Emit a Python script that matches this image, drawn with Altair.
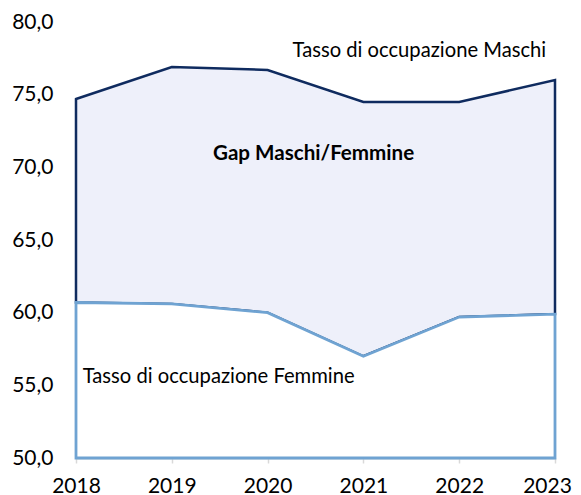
import altair as alt
import pandas as pd

years = [2018, 2019, 2020, 2021, 2022, 2023]
maschi = [74.7, 76.9, 76.7, 74.5, 74.5, 76.0]
femmine = [60.7, 60.6, 60.0, 57.0, 59.7, 59.9]
base_value = 50.0

ann_text = ["Tasso di occupazione Maschi", "Tasso di occupazione Femmine"]
ann_x = [2020.26, 2018.07]
ann_y = [78.0, 55.6]
gap_text = ["Gap Maschi/Femmine"]
gap_x = [2019.43]
gap_y = [70.9]

df = pd.DataFrame({"anno": years, "maschi": maschi, "femmine": femmine,
                   "base": [base_value] * len(years)})
ann = pd.DataFrame({"t": ann_text, "x": ann_x, "y": ann_y})
gapann = pd.DataFrame({"t": gap_text, "x": gap_x, "y": gap_y})

FONT = "Lato"
NAVY = "#0f2b5f"
LIGHT = "#6fa3d2"

xs = alt.Scale(domain=[2018, 2023], nice=False, zero=False)
ys = alt.Scale(domain=[50, 80], nice=False, zero=False)

xaxis = alt.Axis(values=years, format="d", labelFontSize=21, labelFont=FONT,
                 labelColor="#000000", domainColor="#d9d9d9", domainWidth=2,
                 tickColor="#d9d9d9", tickSize=5, tickWidth=1.5, labelPadding=12,
                 labelOffset=alt.expr("datum.value == 2023 ? -8 : 0"),
                 labelBaseline="top", grid=False, title=None, labelFlush=False)
yaxis = alt.Axis(values=[50, 55, 60, 65, 70, 75, 80],
                 labelExpr="replace(format(datum.value, '.1f'), '.', ',')",
                 labelFontSize=21, labelFont=FONT, labelColor="#000000",
                 domain=False, ticks=False, grid=False, labelPadding=23, title=None)

gap = alt.Chart(df).mark_area(fill="#eef0fa", stroke=NAVY, strokeWidth=2.5).encode(
    x=alt.X("anno:Q", scale=xs, axis=xaxis),
    y=alt.Y("maschi:Q", scale=ys, axis=yaxis),
    y2="femmine:Q",
)
fem = alt.Chart(df).mark_area(fill="#ffffff", stroke=LIGHT, strokeWidth=2.8).encode(
    x=alt.X("anno:Q", scale=xs),
    y=alt.Y("femmine:Q", scale=ys),
    y2="base:Q",
)
text = alt.Chart(ann).mark_text(align="left", baseline="middle", font=FONT,
                                fontSize=20.2, color="#000000").encode(
    x=alt.X("x:Q", scale=xs),
    y=alt.Y("y:Q", scale=ys),
    text="t:N",
)
text_gap = alt.Chart(gapann).mark_text(align="left", baseline="middle", font=FONT,
                                       fontSize=20.6, fontWeight="bold",
                                       color="#000000").encode(
    x=alt.X("x:Q", scale=xs),
    y=alt.Y("y:Q", scale=ys),
    text="t:N",
)

chart = alt.layer(gap, fem, text, text_gap).properties(
    width=479, height=436,
    autosize=alt.AutoSizeParams(type="none"),
    padding={"left": 68, "top": 14, "right": 18, "bottom": 37},
).configure_view(stroke=None)

chart.save("out.html", embed_options={"renderer": "svg", "actions": False})
